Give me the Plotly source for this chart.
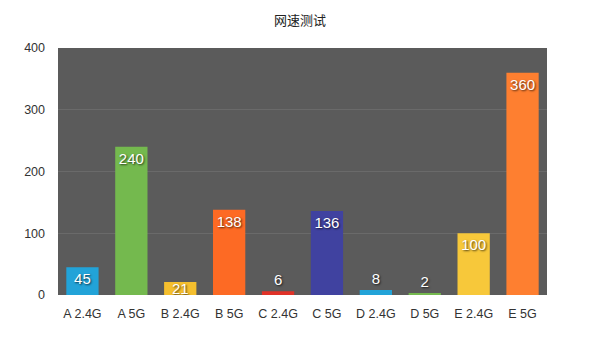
import plotly.graph_objects as go

categories = ["A 2.4G", "A 5G", "B 2.4G", "B 5G", "C 2.4G", "C 5G", "D 2.4G", "D 5G", "E 2.4G", "E 5G"]
speeds = [45, 240, 21, 138, 6, 136, 8, 2, 100, 360]
bar_colors = ["#22a3d8", "#74b94e", "#f5bf2e", "#fd6a24", "#e03228", "#4042a0",
              "#22a3d8", "#74b94e", "#f7c83a", "#fe7f30"]

font_lbl = dict(color="white", size=15, family="Liberation Sans, Arial, sans-serif",
                shadow="1px 1px 2px rgba(0,0,0,0.7)")

def subset(cond):
    idx = [i for i, v in enumerate(speeds) if cond(v)]
    return ([categories[i] for i in idx], [speeds[i] for i in idx], [bar_colors[i] for i in idx])

fig = go.Figure()
# tall bars: label inside at the top
cx, cy, cc = subset(lambda v: v >= 30)
fig.add_bar(x=cx, y=cy, marker=dict(color=cc, line=dict(width=0)),
            text=[str(v) for v in cy], textposition="inside", textangle=0,
            insidetextanchor="end", constraintext="none", textfont=font_lbl)
# medium bars: label centred in bar
cx, cy, cc = subset(lambda v: 15 <= v < 30)
fig.add_bar(x=cx, y=cy, marker=dict(color=cc, line=dict(width=0)),
            text=[str(v) for v in cy], textposition="inside", textangle=0,
            insidetextanchor="middle", constraintext="none", textfont=font_lbl)
# short bars: label above
cx, cy, cc = subset(lambda v: v < 15)
fig.add_bar(x=cx, y=cy, marker=dict(color=cc, line=dict(width=0)),
            text=[str(v) for v in cy], textposition="outside", textangle=0,
            constraintext="none", cliponaxis=False, textfont=font_lbl)

fig.update_layout(
    width=600, height=338,
    margin=dict(l=58, r=53, t=48, b=43),
    paper_bgcolor="white", plot_bgcolor="#5b5b5b",
    barmode="overlay", bargap=0.34, showlegend=False,
    title=dict(text="网速测试", x=0.5, xanchor="center", y=0.94, yanchor="middle",
               font=dict(size=13, color="#222", family="Noto Sans CJK SC")),
    font=dict(family="Liberation Sans, Arial, sans-serif", size=12, color="#333"),
)
fig.update_xaxes(showgrid=False, ticks="", ticklabelstandoff=9,
                 categoryorder="array", categoryarray=categories,
                 tickfont=dict(size=12.5, color="#333"))
fig.update_yaxes(range=[0, 400], dtick=100, gridcolor="#6a6a6a", gridwidth=1,
                 zeroline=False, ticks="", ticklabelstandoff=12,
                 tickfont=dict(size=12.5, color="#333"))
fig.write_html("out.html")
